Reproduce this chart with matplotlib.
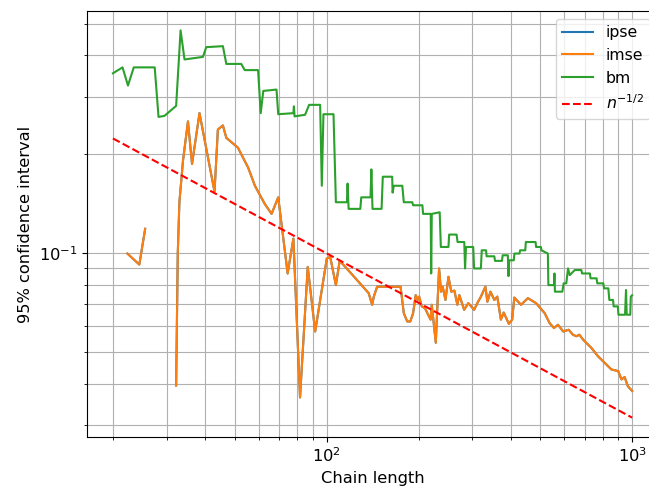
import numpy as np
import matplotlib
matplotlib.use("Agg")
import matplotlib.pyplot as plt

# bm (batch means) interval width
bm_n = [20, 21.5, 22.4, 23.4, 27.4, 28.2, 29.5, 32.2, 33.3, 34.3, 39.4, 40.4,
        45.8, 47.0, 52.6, 54.0, 59.7, 60.9, 62.1, 68.6, 69.5, 77.9, 78.2, 78.6,
        85.1, 87.7, 95.3, 96.5, 97.7, 105.4, 107.3, 116.6, 117.2, 118.1, 129,
        129.9, 139.3, 140.2, 141.4, 151.4, 152.8, 164, 164.5, 166, 177, 179,
        190.8, 192, 205.9, 207, 219.3, 220, 221, 234.6, 236.6, 250.6, 251.9,
        266.4, 268.4, 282.3, 284, 286, 302, 304, 320, 322, 332.7, 334, 354,
        356, 375, 377, 392, 394, 396, 410, 412, 428, 430, 447, 449, 483, 485,
        503, 505, 530, 532, 555, 557, 559, 572, 591, 597, 609, 617, 625, 649,
        682, 686, 727.5, 731, 765, 769, 805, 809, 836, 842, 866, 870, 898, 902,
        948, 955, 960, 986, 990, 1000]
bm_v = [0.353, 0.368, 0.324, 0.368, 0.368, 0.260, 0.262, 0.281, 0.477, 0.389,
        0.396, 0.424, 0.427, 0.377, 0.377, 0.361, 0.361, 0.267, 0.312, 0.315,
        0.265, 0.267, 0.280, 0.261, 0.264, 0.283, 0.283, 0.1605, 0.265, 0.265,
        0.143, 0.143, 0.163, 0.1365, 0.1365, 0.148, 0.148, 0.180, 0.1365,
        0.1365, 0.171, 0.171, 0.153, 0.1605, 0.1605, 0.143, 0.143, 0.140,
        0.140, 0.1318, 0.1318, 0.0868, 0.1318, 0.1333, 0.1045, 0.1045, 0.114,
        0.114, 0.1082, 0.1082, 0.0899, 0.1045, 0.1045, 0.0899, 0.0899, 0.1021,
        0.1021, 0.0979, 0.0979, 0.0948, 0.0948, 0.0986, 0.0986, 0.0852, 0.0952,
        0.0952, 0.0998, 0.0998, 0.1021, 0.1021, 0.1082, 0.1082, 0.1045, 0.1045,
        0.1021, 0.0998, 0.080, 0.080, 0.0868, 0.0764, 0.0764, 0.0764, 0.081,
        0.081, 0.0899, 0.0858, 0.0889, 0.0889, 0.0868, 0.0868, 0.0839, 0.0839,
        0.081, 0.081, 0.0782, 0.0782, 0.0721, 0.0721, 0.0689, 0.0689, 0.065,
        0.065, 0.0773, 0.065, 0.065, 0.0738, 0.0745]

# imse interval width (ipse coincides with it and is hidden underneath)
imse_n = [22.3, 24.4, 25.5, 29.0, 32.2, 32.6, 33.0, 33.9, 35.2, 36.3, 38.4,
          43.0, 44.1, 45.8, 47.0, 51.3, 55.4, 58.3, 62.8, 66.1, 69.5, 74.6,
          77.9, 81.9, 86.8, 91.8, 100.2, 102.8, 107.3, 110.4, 115.2, 137.4,
          141, 142.8, 146.4, 174.7, 179, 183.7, 188, 192, 195.8, 199, 201, 205,
          210, 219, 221, 227.8, 230, 233.5, 237, 240, 245, 250.6, 256, 262,
          268, 272, 282, 291, 304, 312, 320, 331, 336, 344, 354, 362, 372, 380,
          395, 405, 411.6, 433, 456, 485, 517.5, 537, 555, 572, 595, 620, 640,
          657, 672, 691, 736, 773, 813, 855, 900, 923, 945, 968, 1000]
imse_v = [0.0998, 0.0924, 0.1187, np.nan, 0.0396, 0.0998, 0.143, 0.191, 0.252,
          0.187, 0.267, 0.154, 0.238, 0.245, 0.2246, 0.2096, 0.1823, 0.1605,
          0.1413, 0.1318, 0.148, 0.0868, 0.1108, 0.0364, 0.0909, 0.0578,
          0.0964, 0.0975, 0.0800, 0.0948, 0.0909, 0.0756, 0.0697, 0.0738,
          0.0791, 0.0791, 0.0657, 0.062, 0.062, 0.0657, 0.0746, 0.072, 0.0738,
          0.0689, 0.068, 0.0628, 0.0697, 0.0534, 0.0657, 0.0899, 0.0764,
          0.0790, 0.0721, 0.0848, 0.0764, 0.0770, 0.0697, 0.0746, 0.0673,
          0.0705, 0.0673, 0.0707, 0.0738, 0.0791, 0.0712, 0.0764, 0.0721,
          0.0738, 0.0628, 0.0660, 0.061, 0.0628, 0.0733, 0.0697, 0.073, 0.0705,
          0.0657, 0.0613, 0.0592, 0.0606, 0.0578, 0.0585, 0.0565, 0.0559,
          0.0565, 0.0546, 0.0515, 0.0486, 0.0464, 0.0443, 0.0438, 0.0413,
          0.0420, 0.0394, 0.0381]
ipse_n = imse_n
ipse_v = imse_v

# reference rate n^(-1/2), endpoints
ref_n = [20, 1000]
ref_v = [0.2236, 0.0316]

plt.rcParams["font.size"] = 11.7

fig = plt.figure(figsize=(6.49, 4.93), dpi=100)
# right edge of the axes sits just past the canvas, as in the cropped original
ax = fig.add_axes([0.134, 0.1136, 0.88, 0.8641])

ax.plot(ipse_n, ipse_v, label="ipse")
ax.plot(imse_n, imse_v, label="imse")
ax.plot(bm_n, bm_v, label="bm")
ax.plot(ref_n, ref_v, "r--", label=r"$n^{-1/2}$")
ax.set_xscale("log")
ax.set_yscale("log")
ax.grid(True, which="both")
ax.set_xlabel("Chain length")
ax.set_ylabel("95% confidence interval")
ax.legend(loc="upper right", fontsize=11.3)

fig.savefig("out.png", dpi=100)
